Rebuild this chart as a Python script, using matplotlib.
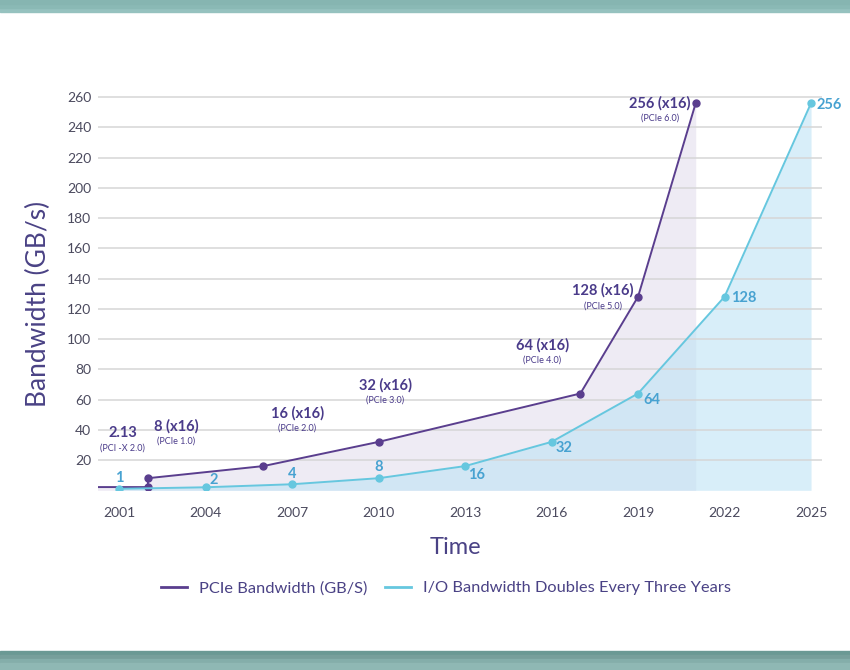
import matplotlib
matplotlib.use("Agg")
import matplotlib.pyplot as plt
from matplotlib.patches import Rectangle
from matplotlib.lines import Line2D

plt.rcParams['font.family'] = ['Lato', 'DejaVu Sans']

# ---- data ----
pcie_years = [2000, 2002, 2002, 2006, 2010, 2017, 2019, 2021]
pcie_values = [2.13, 2.13, 8, 16, 32, 64, 128, 256]
pcie_labels = ["", "2.13", "8 (x16)", "16 (x16)", "32 (x16)", "64 (x16)", "128 (x16)", "256 (x16)"]
pcie_sub = ["", "(PCI -X 2.0)", "(PCIe 1.0)", "(PCIe 2.0)", "(PCIe 3.0)", "(PCIe 4.0)", "(PCIe 5.0)", "(PCIe 6.0)"]

io_years = [2001, 2004, 2007, 2010, 2013, 2016, 2019, 2022, 2025]
io_values = [1, 2, 4, 8, 16, 32, 64, 128, 256]

x_ticks = [2001, 2004, 2007, 2010, 2013, 2016, 2019, 2022, 2025]
y_ticks = [20, 40, 60, 80, 100, 120, 140, 160, 180, 200, 220, 240, 260]

# ---- style ----
PURPLE = '#5a3e8e'
PURPLE_TXT = '#4a3b8a'
CYAN = '#66c7df'
CYAN_TXT = '#47a2d1'
AXIS_TXT = '#4a4285'
TICK_TXT = '#4b4a5e'

W, H = 850, 670
fig = plt.figure(figsize=(8.5, 6.7), dpi=100)
fig.patch.set_facecolor('white')

# teal border strips
for i, c in enumerate(['#96c2bf', '#8ab9b5', '#86b5b1']):
    fig.add_artist(Rectangle((0, 1 - (12 - i * 4) / H), 1, (12 - i * 4) / H,
                             transform=fig.transFigure, color=c, zorder=0))
for i, c in enumerate(['#6b9994', '#779f9b', '#84aeaa', '#8fb8b4']):
    fig.add_artist(Rectangle((0, 0), 1, (19 - i * 4) / H,
                             transform=fig.transFigure, color=c, zorder=0))

ax = fig.add_axes([98 / W, (H - 490.3) / H, 724 / W, 400.8 / H])
ax.set_xlim(2000.27, 2025.38)
ax.set_ylim(0, 265)

# fills
ax.fill_between(pcie_years, pcie_values, 0, color='#eeebf4', lw=0, zorder=1)
ax.fill_between(io_years, io_values, 0, color='#bee3f5', alpha=0.6, lw=0, zorder=1.2)

# lines
ax.plot(pcie_years, pcie_values, color=PURPLE, lw=1.4, marker='o', ms=5,
        markevery=list(range(1, len(pcie_years))), zorder=4)
ax.plot(io_years, io_values, color=CYAN, lw=1.4, marker='o', ms=5, zorder=4)

# annotations for PCIe
pcie_off = [None, (-25, -54), (28, -52), (34, -53), (7, -57), (-38, -48), (-35, -6), (-36, 0)]
for yr, v, lab, sub, off in zip(pcie_years, pcie_values, pcie_labels, pcie_sub, pcie_off):
    if not lab:
        continue
    ax.annotate(lab, (yr, v), xytext=(off[0] * 0.72, -off[1] * 0.72), textcoords='offset points',
                ha='center', va='center', fontsize=10.5, fontweight='bold', color=PURPLE_TXT, zorder=6)
    ax.annotate(sub, (yr, v), xytext=(off[0] * 0.72, -(off[1] + 15) * 0.72), textcoords='offset points',
                ha='center', va='center', fontsize=6.5, color=PURPLE_TXT, zorder=6)

io_off = [(0, -11), (8, -7), (0, -10), (0, -11), (11, 9), (12, 6), (14, 6), (19, 1), (18, 2)]
for yr, v, off in zip(io_years, io_values, io_off):
    ax.annotate(str(v), (yr, v), xytext=(off[0] * 0.72, -off[1] * 0.72), textcoords='offset points',
                ha='center', va='center', fontsize=10.5, fontweight='bold', color=CYAN_TXT, zorder=6)

# axes styling
for s in ax.spines.values():
    s.set_visible(False)
ax.set_facecolor('none')
ax.set_xticks(x_ticks)
ax.set_xticklabels([str(x) for x in x_ticks])
ax.set_yticks(y_ticks)
ax.set_yticklabels([str(y) for y in y_ticks])
ax.tick_params(axis='both', length=0, labelsize=10, labelcolor=TICK_TXT)
ax.tick_params(axis='x', pad=12)
ax.tick_params(axis='y', pad=5)
ax.set_axisbelow(False)
ax.grid(axis='y', color='#d6d6d6', lw=1.1, zorder=2)
ax.grid(axis='x', visible=False)

fig.text(455 / W, 1 - 547 / H, 'Time', ha='center', va='center', fontsize=17, color=AXIS_TXT)
fig.text(38 / W, 1 - 304 / H, 'Bandwidth (GB/s)', ha='center', va='center', rotation=90,
         fontsize=19, color=AXIS_TXT)

handles = [Line2D([], [], color=PURPLE, lw=2), Line2D([], [], color=CYAN, lw=2)]
fig.legend(handles, ['PCIe Bandwidth (GB/S)', 'I/O Bandwidth Doubles Every Three Years'],
           loc='center', bbox_to_anchor=(446 / W, 1 - 588 / H), ncol=2, frameon=False,
           fontsize=11.8, labelcolor=AXIS_TXT, handlelength=1.6, handletextpad=0.7,
           columnspacing=1.1)

fig.savefig('out.png', dpi=100, facecolor='white')
